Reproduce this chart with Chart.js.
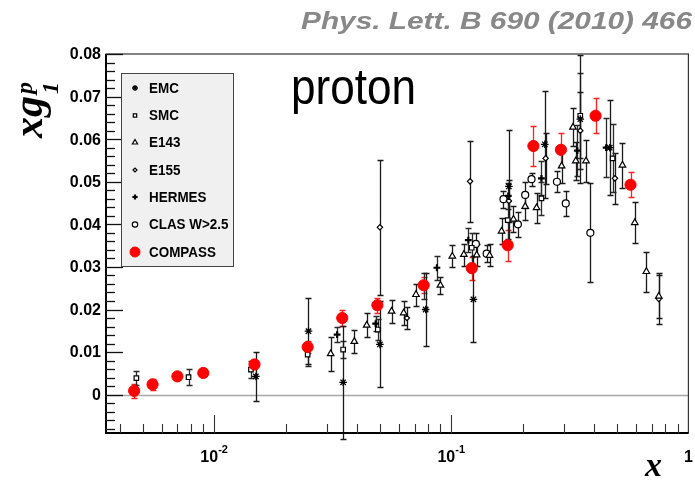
<!DOCTYPE html>
<html>
<head>
<meta charset="utf-8">
<script src="https://cdn.jsdelivr.net/npm/chart.js@4.4.1/dist/chart.umd.min.js"></script>
<style>
  html, body { margin: 0; padding: 0; background: #fff; }
</style>
</head>
<body>
<canvas id="myChart" width="695" height="482"></canvas>
<script>
var emcX   = [0.015, 0.025, 0.035, 0.05, 0.078, 0.124, 0.175, 0.248, 0.35, 0.466];
var emcY   = [0.0043, 0.0149, 0.0029, 0.0118, 0.0200, 0.0224, 0.0489, 0.0588, 0.0647, 0.0580];
var emcErr = [0.0057, 0.0078, 0.0133, 0.0101, 0.0085, 0.0101, 0.0133, 0.0125, 0.0150, 0.0112];

var smcX   = [0.0047, 0.0078, 0.0143, 0.0248, 0.035, 0.049, 0.077, 0.122, 0.173, 0.240, 0.350, 0.479];
var smcY   = [0.0039, 0.0041, 0.0059, 0.0094, 0.0106, 0.0153, 0.0255, 0.0345, 0.0410, 0.0461, 0.0655, 0.0555];
var smcErr = [0.0017, 0.0019, 0.0021, 0.0026, 0.0021, 0.0024, 0.0030, 0.0035, 0.0045, 0.0038, 0.0100, 0.0080];

var e143X   = [0.031, 0.039, 0.044, 0.056, 0.063, 0.071, 0.090, 0.101, 0.113, 0.128, 0.145, 0.163, 0.183, 0.205, 0.229, 0.292, 0.326, 0.335, 0.370, 0.527, 0.594, 0.665, 0.750];
var e143Y   = [0.0096, 0.0125, 0.0163, 0.0196, 0.0192, 0.0235, 0.0257, 0.0325, 0.0329, 0.0328, 0.0327, 0.0384, 0.0412, 0.0442, 0.0439, 0.0537, 0.0628, 0.0549, 0.0549, 0.0539, 0.0404, 0.0289, 0.0231];
var e143Err = [0.0040, 0.0028, 0.0028, 0.0027, 0.0028, 0.0026, 0.0020, 0.0026, 0.0026, 0.0026, 0.0026, 0.0030, 0.0030, 0.0032, 0.0035, 0.0040, 0.0045, 0.0045, 0.0050, 0.0053, 0.0048, 0.0047, 0.0050];

var e155X   = [0.05, 0.065, 0.12, 0.175, 0.25, 0.35, 0.49, 0.75];
var e155Y   = [0.0393, 0.0180, 0.0501, 0.0455, 0.0555, 0.0620, 0.0508, 0.0225];
var e155Err = [0.0158, 0.0025, 0.0095, 0.0050, 0.0060, 0.0090, 0.0060, 0.0060];

var hermesX   = [0.033, 0.048, 0.087, 0.118, 0.174, 0.24, 0.34, 0.45];
var hermesY   = [0.0141, 0.0167, 0.0298, 0.0363, 0.0467, 0.0508, 0.0573, 0.0580];
var hermesErr = [0.0017, 0.0017, 0.0028, 0.0028, 0.0030, 0.0040, 0.0060, 0.0070];

var clasX   = [0.127, 0.141, 0.166, 0.191, 0.205, 0.218, 0.279, 0.304, 0.386];
var clasY   = [0.0354, 0.0331, 0.0459, 0.0400, 0.0469, 0.0506, 0.0500, 0.0449, 0.0380];
var clasErr = [0.0025, 0.0020, 0.0020, 0.0030, 0.0030, 0.0015, 0.0025, 0.0030, 0.0116];

var compassX   = [0.0046, 0.0055, 0.0070, 0.0090, 0.0148, 0.0248, 0.0347, 0.0488, 0.0765, 0.122, 0.173, 0.222, 0.290, 0.406, 0.570];
var compassY   = [0.0009, 0.0024, 0.0043, 0.0051, 0.0071, 0.0112, 0.0180, 0.0210, 0.0257, 0.0297, 0.0351, 0.0584, 0.0575, 0.0655, 0.0493];
var compassErr = [0.0017, 0.0012, 0.0005, 0.0005, 0.0010, 0.0013, 0.0019, 0.0018, 0.0019, 0.0027, 0.0036, 0.0047, 0.0040, 0.0041, 0.0029];

var yTicks = [0, 0.01, 0.02, 0.03, 0.04, 0.05, 0.06, 0.07, 0.08];
var yTickLabels = ['0', '0.01', '0.02', '0.03', '0.04', '0.05', '0.06', '0.07', '0.08'];
var xDecades = [0.01, 0.1, 1];
var xDecadeExp = ['-2', '-1', ''];

function pts(xs, ys, es) {
    return xs.map(function (x, i) { return { x: x, y: ys[i], e: es[i] }; });
}

function makeSet(label, xs, ys, es, style, radius, fill, border, bw, errColor, order) {
    return {
        label: label,
        data: pts(xs, ys, es),
        pointStyle: style,
        pointRadius: radius,
        pointBackgroundColor: fill,
        pointBorderColor: border,
        pointBorderWidth: bw,
        errColor: errColor,
        order: order
    };
}

var dataSets = [
    makeSet('EMC', emcX, emcY, emcErr, 'star', 3.8, '#fff', '#000', 1.3, '#1a1a1a', 1),
    makeSet('SMC', smcX, smcY, smcErr, 'rect', 3.2, '#fff', '#000', 1.2, '#2a2a2a', 1),
    makeSet('E143', e143X, e143Y, e143Err, 'triangle', 3.8, '#fff', '#000', 1.2, '#1a1a1a', 1),
    makeSet('E155', e155X, e155Y, e155Err, 'rectRot', 2.7, '#fff', '#000', 1.2, '#1a1a1a', 1),
    makeSet('HERMES', hermesX, hermesY, hermesErr, 'cross', 3.4, '#000', '#000', 2.2, '#2a2a2a', 1),
    makeSet('CLAS W>2.5', clasX, clasY, clasErr, 'circle', 3.5, '#fff', '#000', 1.2, '#1a1a1a', 1),
    makeSet('COMPASS', compassX, compassY, compassErr, 'circle', 5.6, '#ff0000', '#ff0000', 1, '#ff2020', 0)
];

function fitText(ctx, text, x, y, width) {
    var w = ctx.measureText(text).width;
    ctx.save();
    ctx.translate(x, y);
    ctx.scale(width / w, 1);
    ctx.fillText(text, 0, 0);
    ctx.restore();
}

function marker(ctx, ds, x, y) {
    ctx.fillStyle = ds.pointBackgroundColor;
    ctx.strokeStyle = ds.pointBorderColor;
    ctx.lineWidth = ds.pointBorderWidth;
    if (Chart.helpers && Chart.helpers.drawPoint) {
        Chart.helpers.drawPoint(ctx, { pointStyle: ds.pointStyle, radius: ds.pointRadius, rotation: 0, borderWidth: ds.pointBorderWidth }, x, y);
    } else {
        ctx.beginPath(); ctx.arc(x, y, ds.pointRadius, 0, Math.PI * 2); ctx.fill(); ctx.stroke();
    }
}

var rootLook = {
    id: 'rootLook',
    beforeDatasetsDraw: function (chart) {
        var ctx = chart.ctx, xs = chart.scales.x, ys = chart.scales.y, a = chart.chartArea;
        ctx.save();
        // zero line
        var y0 = Math.round(ys.getPixelForValue(0)) + 0.5;
        ctx.strokeStyle = '#a8a8a8';
        ctx.lineWidth = 1.4;
        ctx.beginPath(); ctx.moveTo(a.left, y0); ctx.lineTo(a.right, y0); ctx.stroke();
        // error bars
        chart.data.datasets.slice().reverse().forEach(function (ds) {
            ctx.strokeStyle = ds.errColor;
            ctx.lineWidth = 1.3;
            ds.data.forEach(function (p) {
                var px = Math.round(xs.getPixelForValue(p.x)) + 0.5;
                var y1 = Math.round(ys.getPixelForValue(p.y + p.e)) + 0.5;
                var y2 = Math.round(ys.getPixelForValue(p.y - p.e)) + 0.5;
                ctx.beginPath();
                ctx.moveTo(px, y1); ctx.lineTo(px, y2);
                ctx.moveTo(px - 3, y1); ctx.lineTo(px + 3, y1);
                ctx.moveTo(px - 3, y2); ctx.lineTo(px + 3, y2);
                ctx.stroke();
            });
        });
        ctx.restore();
    },
    afterDraw: function (chart) {
        var ctx = chart.ctx, xs = chart.scales.x, ys = chart.scales.y, a = chart.chartArea;
        ctx.save();
        // frame
        ctx.strokeStyle = '#333';
        ctx.lineWidth = 1.2;
        ctx.strokeRect(a.left, a.top, a.right - a.left, a.bottom - a.top);
        ctx.strokeStyle = '#000';
        ctx.lineWidth = 2;
        ctx.beginPath();
        ctx.moveTo(a.left, a.top); ctx.lineTo(a.left, a.bottom); ctx.lineTo(a.right, a.bottom);
        ctx.stroke();

        // y ticks (inside)
        ctx.lineWidth = 1.3;
        ctx.strokeStyle = '#111';
        for (var v = -0.008; v <= 0.0801; v += 0.002) {
            var py = Math.round(ys.getPixelForValue(v)) + 0.5;
            var major = Math.abs(v / 0.01 - Math.round(v / 0.01)) < 1e-6;
            ctx.beginPath();
            ctx.moveTo(a.left, py);
            ctx.lineTo(a.left + (major ? 17 : 9), py);
            ctx.stroke();
        }
        // x ticks (inside)
        ctx.lineWidth = 1.1;
        ctx.strokeStyle = '#333';
        [0.001, 0.01, 0.1].forEach(function (d) {
            for (var k = 1; k <= 9; k++) {
                var xv = d * k;
                if (xv < xs.min || xv >= xs.max) continue;
                var px = Math.round(xs.getPixelForValue(xv)) + 0.5;
                ctx.beginPath();
                ctx.moveTo(px, a.bottom);
                ctx.lineTo(px, a.bottom - (k === 1 ? 18 : 9));
                ctx.stroke();
            }
        });

        // y tick labels
        ctx.fillStyle = '#000';
        ctx.font = 'bold 16px "Liberation Sans", Arial, sans-serif';
        ctx.textAlign = 'right';
        ctx.textBaseline = 'middle';
        yTicks.forEach(function (t, i) {
            ctx.fillText(yTickLabels[i], 101, ys.getPixelForValue(t) + 1);
        });
        // x decade labels
        ctx.textBaseline = 'alphabetic';
        ctx.textAlign = 'left';
        xDecades.forEach(function (d, i) {
            var px = xs.getPixelForValue(d);
            var base = i < 2 ? '10' : '1';
            ctx.font = 'bold 16px "Liberation Sans", Arial, sans-serif';
            var w1 = ctx.measureText(base).width;
            ctx.font = 'bold 11px "Liberation Sans", Arial, sans-serif';
            var w2 = xDecadeExp[i] ? ctx.measureText(xDecadeExp[i]).width : 0;
            var left = px - (w1 + w2) / 2;
            if (left + w1 + w2 > 694) left = 694 - w1 - w2;
            ctx.font = 'bold 16px "Liberation Sans", Arial, sans-serif';
            ctx.fillText(base, left, 462);
            if (xDecadeExp[i]) {
                ctx.font = 'bold 11px "Liberation Sans", Arial, sans-serif';
                ctx.fillText(xDecadeExp[i], left + w1, 453);
            }
        });

        // axis titles
        ctx.font = 'italic bold 34px "Liberation Serif", "DejaVu Serif", serif';
        ctx.fillText('x', 645, 476);

        ctx.save();
        ctx.translate(42, 138);
        ctx.rotate(-Math.PI / 2);
        ctx.font = 'italic bold 42px "Liberation Serif", "DejaVu Serif", serif';
        ctx.fillText('xg', 0, 0);
        var wg = ctx.measureText('xg').width;
        ctx.font = 'italic bold 24px "Liberation Serif", "DejaVu Serif", serif';
        ctx.fillText('p', wg + 2, -10);
        ctx.fillText('1', wg + 2, 16);
        ctx.restore();

        // "proton" label
        ctx.font = '50px "Liberation Sans", Arial, sans-serif';
        fitText(ctx, 'proton', 291, 104, 125);

        // reference
        ctx.fillStyle = '#888';
        ctx.font = 'italic bold 24px "Liberation Sans", Arial, sans-serif';
        fitText(ctx, 'Phys. Lett. B 690 (2010) 466', 301, 29, 391);

        // legend box
        ctx.fillStyle = '#f0f0f0';
        ctx.fillRect(121, 73, 113, 194);
        ctx.strokeStyle = '#444';
        ctx.lineWidth = 1;
        ctx.strokeRect(121.5, 73.5, 112, 193);
        var rows = [88, 115.5, 142.5, 170, 197, 224.5, 252];
        var order = ['EMC', 'SMC', 'E143', 'E155', 'HERMES', 'CLAS W>2.5', 'COMPASS'];
        ctx.font = 'bold 14px "Liberation Sans", Arial, sans-serif';
        ctx.textBaseline = 'middle';
        order.forEach(function (name, i) {
            var ds = chart.data.datasets.filter(function (d) { return d.label === name; })[0];
            var r = ds.pointRadius;
            var small = Object.assign({}, ds, { pointRadius: name === 'COMPASS' ? 5 : Math.max(2, r - 0.8) });
            marker(ctx, small, 135, rows[i]);
            ctx.fillStyle = '#000';
            ctx.font = 'bold 14px "Liberation Sans", Arial, sans-serif';
            fitText(ctx, name, 149, rows[i] + 1, ctx.measureText(name).width * 0.96);
        });
        ctx.restore();
    }
};

var ctx = document.getElementById('myChart').getContext('2d');
var myChart = new Chart(ctx, {
    type: 'scatter',
    data: { datasets: dataSets },
    options: {
        responsive: false,
        animation: false,
        devicePixelRatio: 1,
        layout: { padding: { left: 106, right: 5, top: 54, bottom: 49 } },
        scales: {
            x: { type: 'logarithmic', min: 0.0035, max: 1, display: false },
            y: { type: 'linear', min: -0.009, max: 0.08, display: false }
        },
        plugins: {
            legend: { display: false },
            tooltip: { enabled: false }
        }
    },
    plugins: [rootLook]
});
</script>
</body>
</html>
